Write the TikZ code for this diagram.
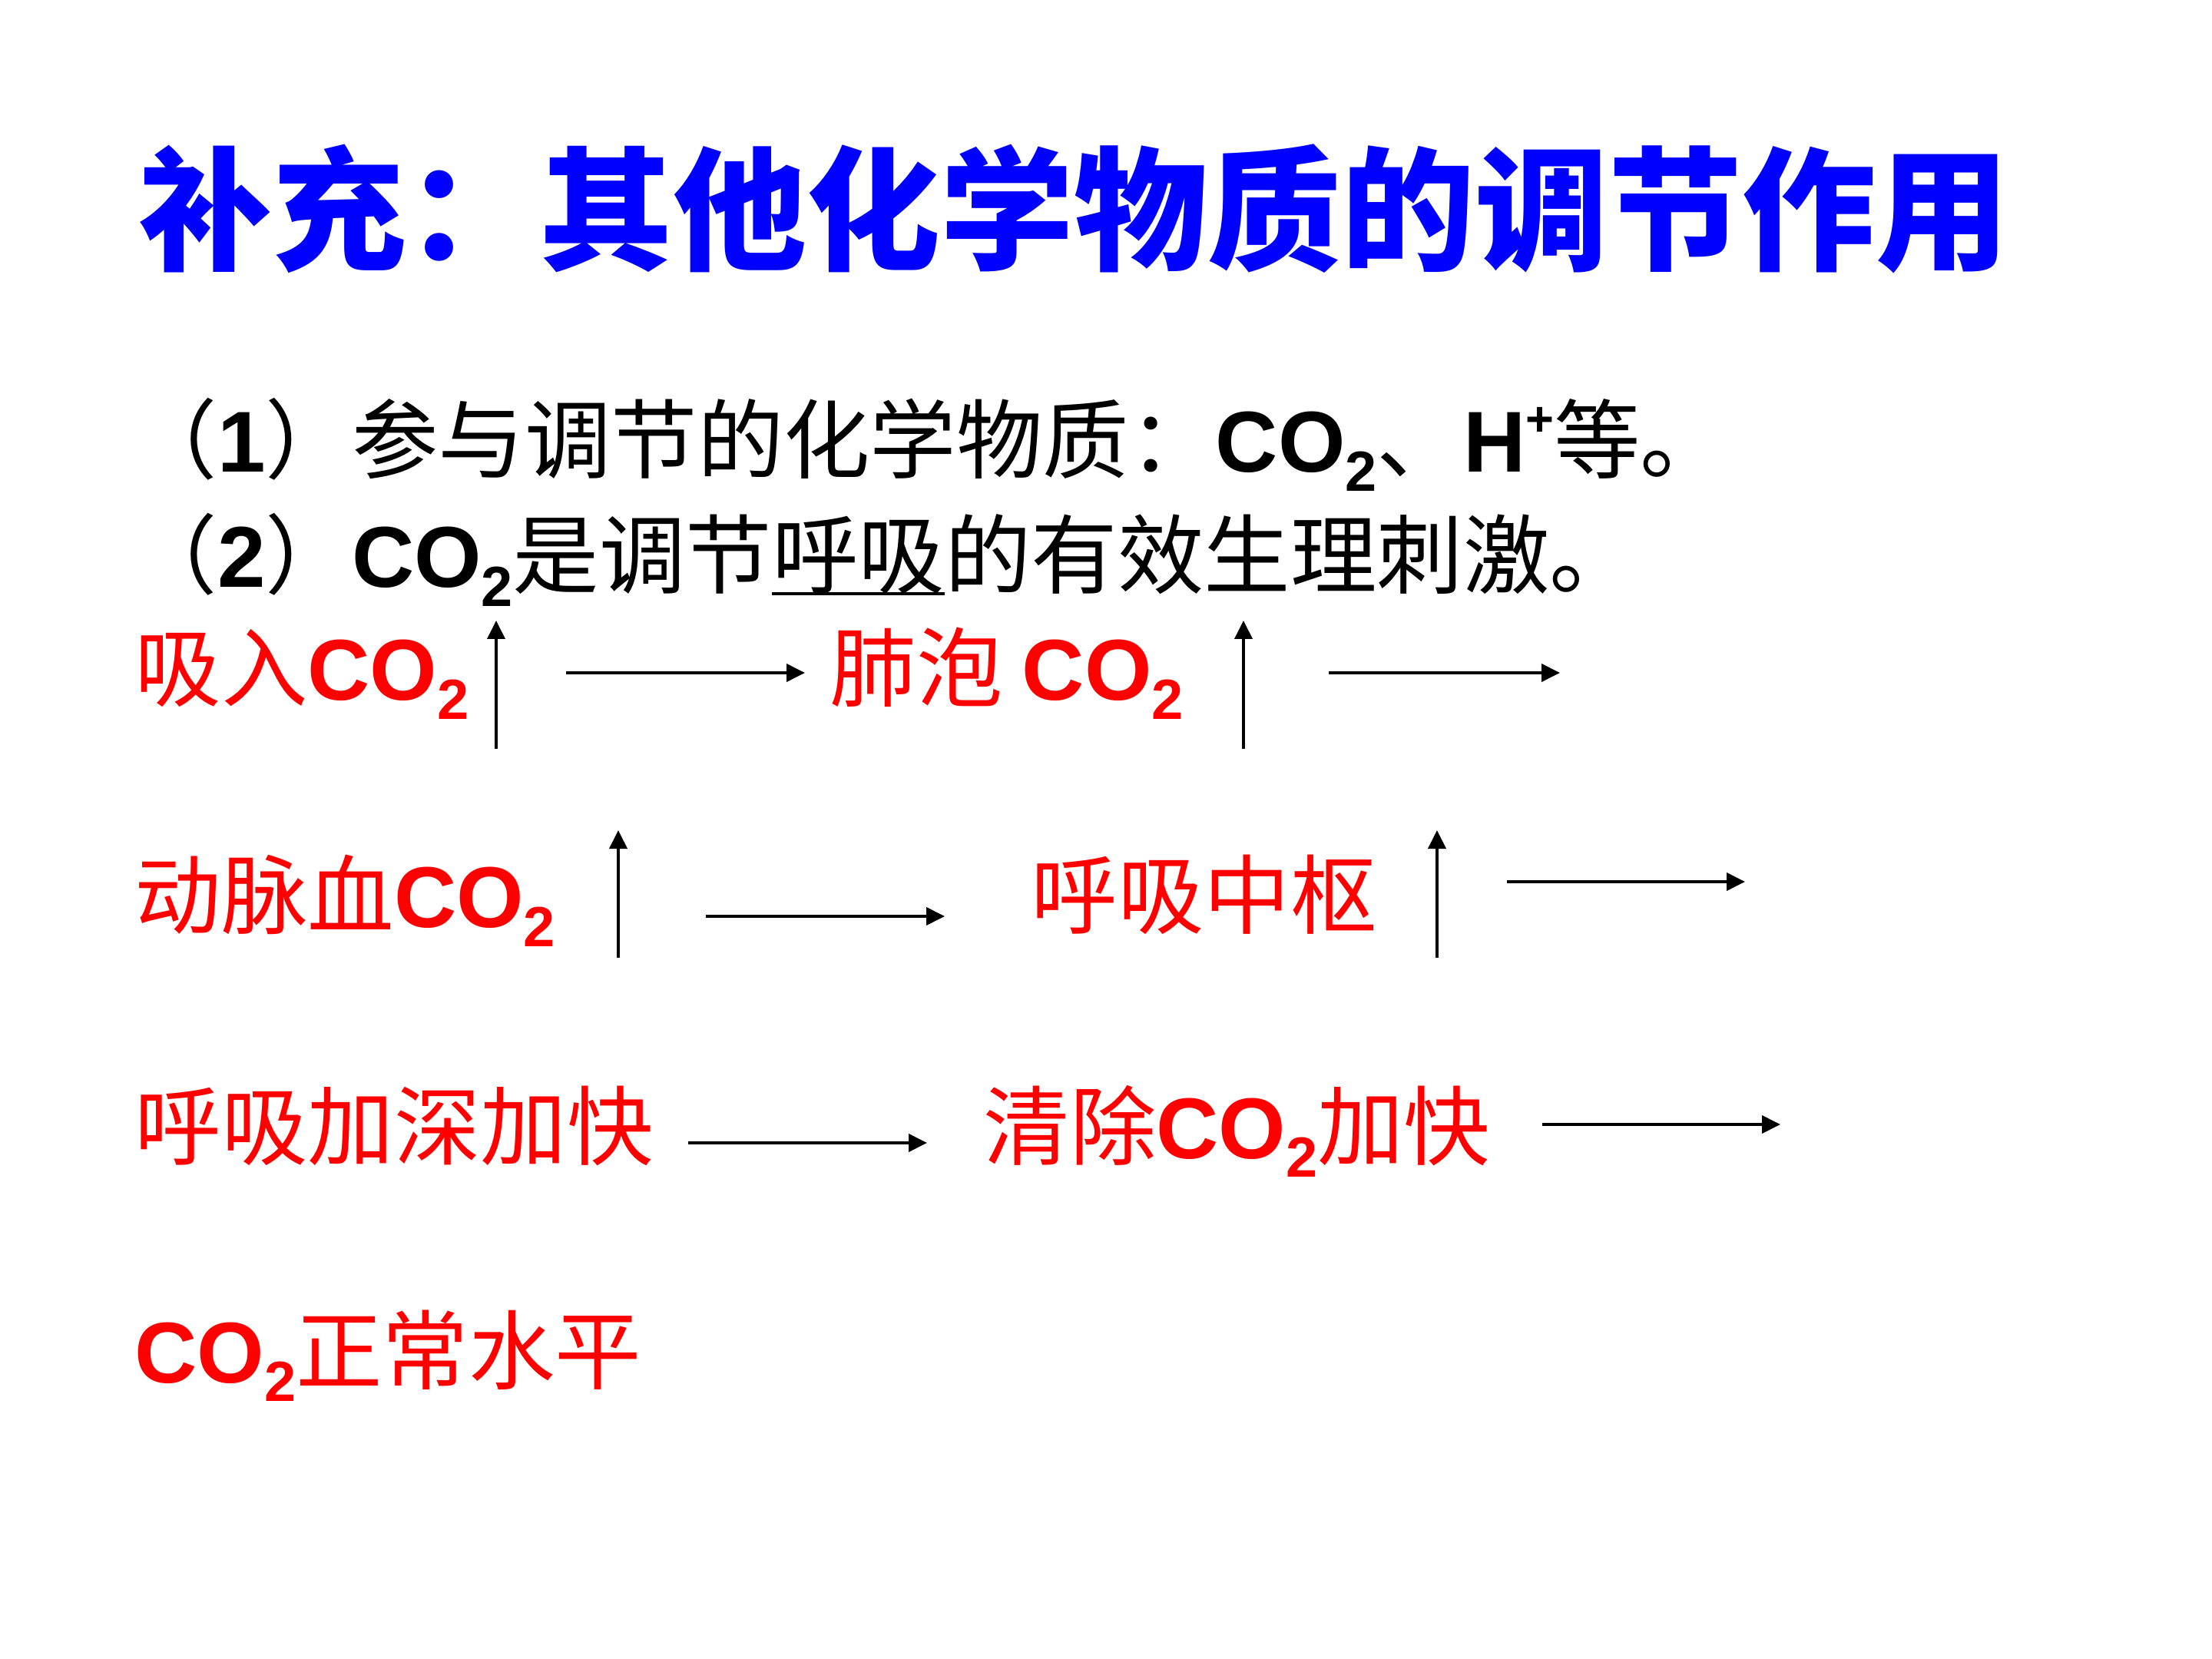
\documentclass[tikz,border=0pt]{standalone}
\usepackage{fontspec}
\setmainfont{Liberation Sans}
\newfontfamily\arialfont{Liberation Sans}
\newfontfamily\cjk{Noto Sans CJK SC}
\newfontfamily\titlecjk{Noto Sans CJK SC Black}
\usetikzlibrary{arrows.meta, positioning}

\definecolor{titleblue}{RGB}{0,0,255}
\definecolor{keyred}{RGB}{255,0,0}

% small helpers for the chemistry bits
\newcommand\latinb[1]{{\arialfont\bfseries #1}}
\newcommand\lowtwo{\raisebox{-0.22em}{\arialfont\fontsize{21}{24}\selectfont\bfseries 2}}
\newcommand\hiplus{\raisebox{0.42em}{\arialfont\fontsize{18}{20}\selectfont\bfseries +}}
\newcommand\cotwo{\latinb{CO}\lowtwo}
\newcommand\keyline[1]{\setbox0\hbox{#1}\rlap{\rule[-0.09em]{\wd0}{1.1pt}}\box0}

\begin{document}
\begin{tikzpicture}
        % Define styles
        \tikzset{
            title/.style={font=\titlecjk\fontsize{49.5}{56}\selectfont, text=titleblue, anchor=west, inner sep=0pt},
            line/.style={font=\cjk\fontsize{32}{38}\selectfont, anchor=base west, inner sep=0pt},
            fact/.style={line, text=keyred},
            uparrow/.style={-{Triangle[length=0.24cm, width=0.23cm]}, line width=1.1pt},
            rightarrow/.style={uparrow}
        }
        \useasboundingbox (0,0) rectangle (28.8,-21.6);
        % Title
        \node[title] (title) at (1.80,-2.72) {补充：其他化学物质的调节作用};
        % The two statements
        \node[line] (first) at (1.70,-6.15) {（\latinb{1}）参与调节的化学物质：\cotwo{}、\latinb{H}\hiplus 等。};
        \node[line] (second) at (1.70,-7.65) {（\latinb{2}）\cotwo{}是调节\keyline{呼吸}的有效生理刺激。};
        % Red chain, row by row
        \node[fact] (inhale) at (1.75,-9.12) {吸入\cotwo};
        \node[fact] (alveolar) at (10.80,-9.12) {肺泡 \cotwo};
        \node[fact] (arterial) at (1.75,-12.08) {动脉血\cotwo};
        \node[fact] (centre) at (13.42,-12.08) {呼吸中枢};
        \node[fact] (deeper) at (1.75,-15.08) {呼吸加深加快};
        \node[fact] (clearing) at (12.80,-15.08) {清除\cotwo 加快};
        \node[fact] (normal) at (1.75,-18.00) {\cotwo 正常水平};
        % Rising arrows
        \foreach \name/\x/\ylow/\yhigh in {upA/6.46/-9.75/-8.08, upB/16.19/-9.75/-8.08,
                                           upC/8.05/-12.47/-10.81, upD/18.71/-12.47/-10.81} {
            \coordinate (\name-s) at (\x,\ylow);
            \coordinate (\name-e) at (\x,\yhigh);
            \draw[uparrow] (\name-s) -- (\name-e);
        }
        % Leading arrows
        \foreach \name/\xa/\xb/\y in {toA/7.37/10.48/-8.76, toB/17.30/20.31/-8.76,
                                      toC/9.19/12.30/-11.93, toD/19.62/22.72/-11.48,
                                      toE/8.96/12.07/-14.88, toF/20.08/23.18/-14.64} {
            \coordinate (\name-s) at (\xa,\y);
            \coordinate (\name-e) at (\xb,\y);
            \draw[rightarrow] (\name-s) -- (\name-e);
        }
    \end{tikzpicture}
\end{document}
